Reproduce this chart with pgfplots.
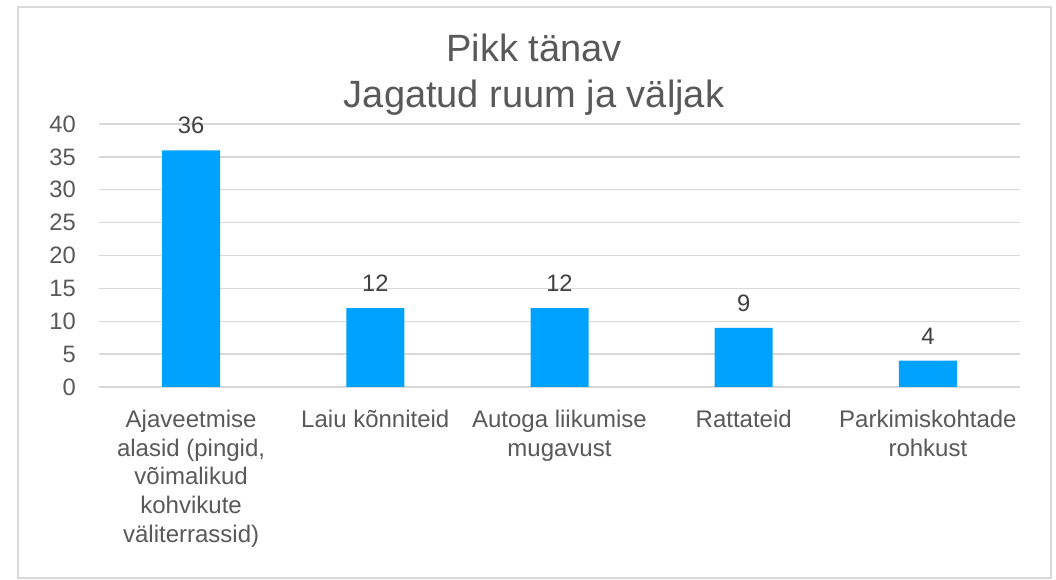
\documentclass[border=0pt]{standalone}
\usepackage{fontspec}
\setmainfont{Liberation Sans}
\usepackage{pgfplots}
\pgfplotsset{compat=1.18}
\definecolor{barblue}{HTML}{00A2FF}
\definecolor{gridgray}{HTML}{D9D9D9}
\definecolor{framegray}{HTML}{D9D9D9}
\definecolor{txtgray}{HTML}{595959}
\definecolor{lblgray}{HTML}{404040}

\begin{document}
\begin{tikzpicture}
  % 1px = 0.75pt; axis box lower left at origin
  \fill[white] (-74.25pt,-144.75pt) rectangle (717.75pt,290.25pt);
  \draw[framegray, line width=1.5pt] (-60.75pt,-143.6pt) rectangle (714pt,285pt);
  \begin{axis}[
    at={(0,0)}, anchor=south west,
    scale only axis,
    width=690.75pt, height=197.25pt,
    ybar, bar width=43.5pt,
    xmin=-0.5, xmax=4.5,
    ymin=0, ymax=40,
    enlargelimits=false,
    ytick={0,5,...,40},
    xtick={0,1,2,3,4},
    xticklabels={
      {Ajaveetmise\\alasid (pingid,\\võimalikud\\kohvikute\\väliterrassid)},
      {Laiu kõnniteid},
      {Autoga liikumise\\mugavust},
      {Rattateid},
      {Parkimiskohtade\\rohkust}},
    /pgf/number format/assume math mode=true,
    axis line style={draw=none},
    major tick length=0pt,
    tick style={draw=none},
    ymajorgrids,
    major grid style={gridgray, line width=1pt},
    yticklabel style={font=\fontsize{17.8}{20}\selectfont, text=txtgray,
      inner sep=0pt, anchor=east, xshift=-17.25pt},
    xticklabel style={font=\fontsize{18}{21.5}\selectfont, text=txtgray,
      inner sep=0pt, anchor=north, yshift=-17.25pt, align=center},
    nodes near coords,
    every node near coord/.append style={font=\fontsize{17.8}{20}\selectfont,
      text=lblgray, inner sep=0pt, anchor=south, yshift=12pt},
    ]
    \addplot[fill=barblue, draw=none] coordinates {(0,36) (1,12) (2,12) (3,9) (4,4)};
  \end{axis}
  \node[anchor=base, font=\fontsize{28.5}{34}\selectfont, text=txtgray] at (326.25pt,243.75pt) {Pikk tänav};
  \node[anchor=base, font=\fontsize{28.5}{34}\selectfont, text=txtgray] at (326.25pt,209.25pt) {Jagatud ruum ja väljak};
  \pgfresetboundingbox
  \path[use as bounding box] (-74.25pt,-144.75pt) rectangle (717.75pt,290.25pt);
\end{tikzpicture}
\end{document}
